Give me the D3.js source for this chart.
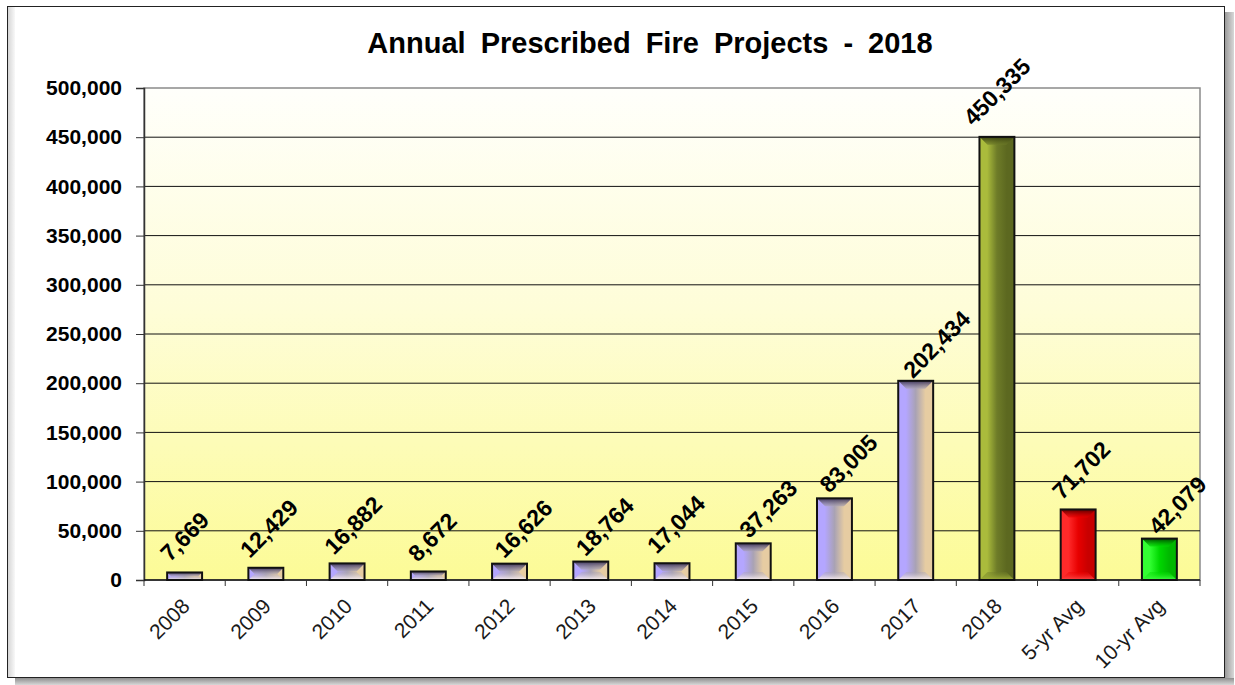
<!DOCTYPE html>
<html>
<head>
<meta charset="utf-8">
<script src="https://cdn.jsdelivr.net/npm/d3@7"></script>
<style>
  body { margin: 0; background: #fff; }
  text { font-family: Arial, "Liberation Sans", sans-serif; }
</style>
</head>
<body>
<script>
// chart data
const categories = ["2008", "2009", "2010", "2011", "2012", "2013", "2014", "2015", "2016", "2017", "2018", "5-yr Avg", "10-yr Avg"];
const values = [7669, 12429, 16882, 8672, 16626, 18764, 17044, 37263, 83005, 202434, 450335, 71702, 42079];
const yTicks = [0, 50000, 100000, 150000, 200000, 250000, 300000, 350000, 400000, 450000, 500000];
const titleText = "Annual Prescribed Fire Projects  - 2018";

// hand-placed label nudges seen in the original (px, rightwards)
const labelNudge = [0, 3, 6, 4, 14, 14, 4, 15, 14, 21, 0, 3, 18];

// bevel colour sets: left, middle, right, top, bottom
const palettes = {
    normal: ["#b4a6ff", "#a9a2b4", "#e6cca2", "#3e3558", "#fff4f4"],
    y2018: ["#aabb3c", "#6e7c28", "#5c6820", "#3a4210", "#a2b238"],
    avg5: ["#ff2a2a", "#e80000", "#c80000", "#5a0000", "#ff4a4a"],
    avg10: ["#33ff33", "#00d800", "#00b800", "#004a00", "#44ff44"]
};
const barPalette = (c) => c === "2018" ? "y2018" : c === "5-yr Avg" ? "avg5" : c === "10-yr Avg" ? "avg10" : "normal";

const W = 1235, H = 685;
const svg = d3.select("body").append("svg")
    .attr("width", W)
    .attr("height", H);

const defs = svg.append("defs");

// frame shadow + box
let shadow = defs.append("linearGradient").attr("id", "shadowR").attr("x1", 0).attr("x2", 1).attr("y1", 0).attr("y2", 0);
shadow.append("stop").attr("offset", 0).attr("stop-color", "#9a9a9a");
shadow.append("stop").attr("offset", 1).attr("stop-color", "#d8d8d8");
let shadowB = defs.append("linearGradient").attr("id", "shadowB").attr("x1", 0).attr("x2", 0).attr("y1", 0).attr("y2", 1);
shadowB.append("stop").attr("offset", 0).attr("stop-color", "#8e8e8e");
shadowB.append("stop").attr("offset", 1).attr("stop-color", "#d8d8d8");
let leftBand = defs.append("linearGradient").attr("id", "leftBand").attr("x1", 0).attr("x2", 1).attr("y1", 0).attr("y2", 0);
leftBand.append("stop").attr("offset", 0).attr("stop-color", "#d6d6d6");
leftBand.append("stop").attr("offset", 1).attr("stop-color", "#f8f8f8");

svg.append("rect").attr("x", 1225).attr("y", 12).attr("width", 9).attr("height", 672).attr("fill", "url(#shadowR)");
svg.append("rect").attr("x", 15).attr("y", 678).attr("width", 1219).attr("height", 7).attr("fill", "url(#shadowB)");
svg.append("rect").attr("x", 7.5).attr("y", 6.5).attr("width", 1217).attr("height", 671)
    .attr("fill", "#fff").attr("stroke", "#222").attr("stroke-width", 1);
svg.append("rect").attr("x", 8).attr("y", 7).attr("width", 7).attr("height", 670).attr("fill", "url(#leftBand)");

// plot area
const margin = { left: 144, right: 1200, top: 88, bottom: 580 };

const x = d3.scaleBand()
    .domain(categories)
    .range([margin.left, margin.right])
    .paddingInner(0.57)
    .paddingOuter(0.285);

const y = d3.scaleLinear()
    .domain([0, 500000])
    .range([margin.bottom, margin.top]);

let bg = defs.append("linearGradient").attr("id", "plotBg").attr("x1", 0).attr("x2", 0).attr("y1", 0).attr("y2", 1);
bg.append("stop").attr("offset", 0).attr("stop-color", "#fffffb");
bg.append("stop").attr("offset", 0.45).attr("stop-color", "#fefdd8");
bg.append("stop").attr("offset", 1).attr("stop-color", "#fcfb96");

svg.append("rect")
    .attr("x", margin.left).attr("y", margin.top)
    .attr("width", margin.right - margin.left).attr("height", margin.bottom - margin.top)
    .attr("fill", "url(#plotBg)")
    .attr("stroke", "#8a8a8a").attr("stroke-width", 1.5);

// gridlines
svg.append("g").selectAll("line")
    .data(yTicks.filter(t => t > 0 && t < 500000))
    .enter().append("line")
    .attr("x1", margin.left).attr("x2", margin.right)
    .attr("y1", d => y(d)).attr("y2", d => y(d))
    .attr("stroke", "#111").attr("stroke-width", 1);

// y axis
const yAxis = svg.append("g")
    .attr("transform", `translate(${margin.left},0)`)
    .call(d3.axisLeft(y).tickValues(yTicks).tickSize(8).tickPadding(14).tickFormat(d3.format(",")));
yAxis.select(".domain").attr("stroke", "#333").attr("stroke-width", 1.5);
yAxis.selectAll(".tick line").attr("stroke", "#333");
yAxis.selectAll("text")
    .attr("font-size", "21px").attr("font-weight", "bold").attr("fill", "#000")
    .attr("font-family", "Arial, 'Liberation Sans', sans-serif");

// x axis
const xg = svg.append("g").attr("transform", `translate(0,${margin.bottom})`);
xg.append("line").attr("x1", margin.left).attr("x2", margin.right)
    .attr("stroke", "#111").attr("stroke-width", 1.5);
const step = x.step();
xg.selectAll("line.tk")
    .data(d3.range(categories.length + 1))
    .enter().append("line")
    .attr("class", "tk")
    .attr("x1", i => margin.left + i * step).attr("x2", i => margin.left + i * step)
    .attr("y1", 0).attr("y2", 6)
    .attr("stroke", "#333");
xg.selectAll("text")
    .data(categories)
    .enter().append("text")
    .attr("transform", d => `translate(${x(d) + x.bandwidth() / 2 - 4},${17}) rotate(-45)`)
    .attr("text-anchor", "end")
    .attr("dy", "0.7em")
    .attr("font-size", "21px")
    .attr("fill", "#1a1a1a")
    .text(d => d);

// bars with bevel
const bars = svg.append("g");
categories.forEach((c, i) => {
    const p = palettes[barPalette(c)];
    const x0 = x(c), w = x.bandwidth();
    const y0 = y(values[i]), h = y(0) - y0;
    const b = Math.min(8, h / 2, w / 4);

    const gid = "bar" + i;
    let g = defs.append("linearGradient").attr("id", gid).attr("x1", 0).attr("x2", 1).attr("y1", 0).attr("y2", 0);
    g.append("stop").attr("offset", 0).attr("stop-color", p[0]);
    g.append("stop").attr("offset", 0.22).attr("stop-color", p[0]);
    g.append("stop").attr("offset", 0.5).attr("stop-color", p[1]);
    g.append("stop").attr("offset", 0.78).attr("stop-color", p[2]);
    g.append("stop").attr("offset", 1).attr("stop-color", p[2]);

    let tg = defs.append("linearGradient").attr("id", gid + "t").attr("x1", 0).attr("x2", 0).attr("y1", 0).attr("y2", 1);
    tg.append("stop").attr("offset", 0).attr("stop-color", p[3]);
    tg.append("stop").attr("offset", 1).attr("stop-color", p[1]).attr("stop-opacity", 0.6);

    let bgd = defs.append("linearGradient").attr("id", gid + "b").attr("x1", 0).attr("x2", 0).attr("y1", 0).attr("y2", 1);
    bgd.append("stop").attr("offset", 0).attr("stop-color", p[1]).attr("stop-opacity", 0.4);
    bgd.append("stop").attr("offset", 1).attr("stop-color", p[4]);

    bars.append("rect")
        .attr("x", x0).attr("y", y0).attr("width", w).attr("height", h)
        .attr("fill", `url(#${gid})`);
    bars.append("polygon")
        .attr("points", [[x0, y0], [x0 + w, y0], [x0 + w - b, y0 + b], [x0 + b, y0 + b]].join(" "))
        .attr("fill", `url(#${gid}t)`);
    bars.append("polygon")
        .attr("points", [[x0, y0 + h], [x0 + w, y0 + h], [x0 + w - b, y0 + h - b], [x0 + b, y0 + h - b]].join(" "))
        .attr("fill", `url(#${gid}b)`);
    bars.append("rect")
        .attr("x", x0).attr("y", y0).attr("width", w).attr("height", h)
        .attr("fill", "none").attr("stroke", "#111").attr("stroke-width", 2);
});

// data labels
const labels = svg.append("g");
categories.forEach((c, i) => {
    const t = labels.append("text")
        .attr("text-anchor", "middle")
        .attr("dy", "0.35em")
        .attr("font-size", "23px")
        .attr("font-weight", "bold")
        .attr("fill", "#000")
        .text(d3.format(",")(values[i]));
    const len = t.node().getComputedTextLength();
    const cx = x(c) + x.bandwidth() / 2 + labelNudge[i];
    const cy = y(values[i]) - 10 - (len + 16) * 0.354 + labelNudge[i] * 0.4;
    t.attr("transform", `translate(${cx},${cy}) rotate(-45)`);
});

// title
svg.append("text")
    .attr("x", 650).attr("y", 53)
    .attr("text-anchor", "middle")
    .attr("font-size", "29px")
    .attr("font-weight", "bold")
    .attr("word-spacing", "7px")
    .attr("fill", "#000")
    .text(titleText);
</script>
</body>
</html>
